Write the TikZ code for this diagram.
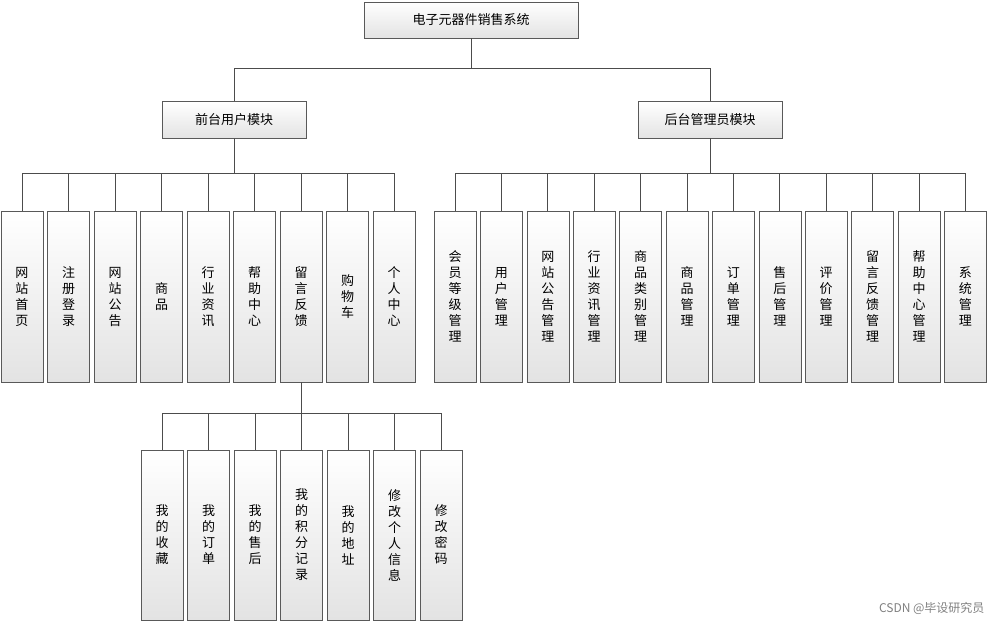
\documentclass[tikz,border=0pt]{standalone}
\usepackage{fontspec}
\setmainfont{Noto Sans CJK SC}
\usetikzlibrary{positioning}
\tikzset{
  box/.style={draw=gray!70!black,top color=white,bottom color=gray!22,font=\fontsize{13}{16}\selectfont,align=center,inner sep=0pt},
  top/.style={box,minimum width=214pt,minimum height=36pt},
  mid/.style={box,minimum width=144pt,minimum height=37pt},
  leaf/.style={box,minimum width=42pt,minimum height=171pt},
  link/.style={draw=gray!60!black,line width=0.8pt}
}

\begin{document}
\begin{tikzpicture}[x=1pt,y=-1pt]
        \useasboundingbox (0,0) rectangle (991,625);
        \node[top] (root) at (471,20) {电子元器件销售系统};
        \node[mid] (front) at (234,120) {前台用户模块};
        \node[mid] (back) at (710,120) {后台管理员模块};

        \foreach \t [count=\i] in {网\\站\\首\\页,注\\册\\登\\录,网\\站\\公\\告,商\\品,行\\业\\资\\讯,帮\\助\\中\\心,留\\言\\反\\馈,购\\物\\车,个\\人\\中\\心}
            \node[leaf] (l\i) at ({22+46.5*(\i-1)},296.5) {\t};
        \foreach \t [count=\i] in {会\\员\\等\\级\\管\\理,用\\户\\管\\理,网\\站\\公\\告\\管\\理,行\\业\\资\\讯\\管\\理,商\\品\\类\\别\\管\\理,商\\品\\管\\理,订\\单\\管\\理,售\\后\\管\\理,评\\价\\管\\理,留\\言\\反\\馈\\管\\理,帮\\助\\中\\心\\管\\理,系\\统\\管\\理}
            \node[leaf] (r\i) at ({455+46.4*(\i-1)},296.5) {\t};
        \foreach \t [count=\i] in {我\\的\\收\\藏,我\\的\\订\\单,我\\的\\售\\后,我\\的\\积\\分\\记\\录,我\\的\\地\\址,修\\改\\个\\人\\信\\息,修\\改\\密\\码}
            \node[leaf,minimum height=170pt] (s\i) at ({162+46.5*(\i-1)},535) {\t};

        \draw[link] (root.south) -- ++(0,30) -| (front.north);
        \draw[link] (root.south) -- ++(0,30) -| (back.north);
        \foreach \i in {1,...,9}
            \draw[link] (front.south) -- ++(0,35) -| (l\i.north);
        \foreach \i in {1,...,12}
            \draw[link] (back.south) -- ++(0,35) -| (r\i.north);
        \foreach \i in {1,...,7}
            \draw[link] (l7.south) -- ++(0,31) -| (s\i.north);

        \node[text=gray,font=\fontsize{12}{14}\selectfont,anchor=east] (mark) at (988,608) {CSDN @毕设研究员};
    \end{tikzpicture}
\end{document}
